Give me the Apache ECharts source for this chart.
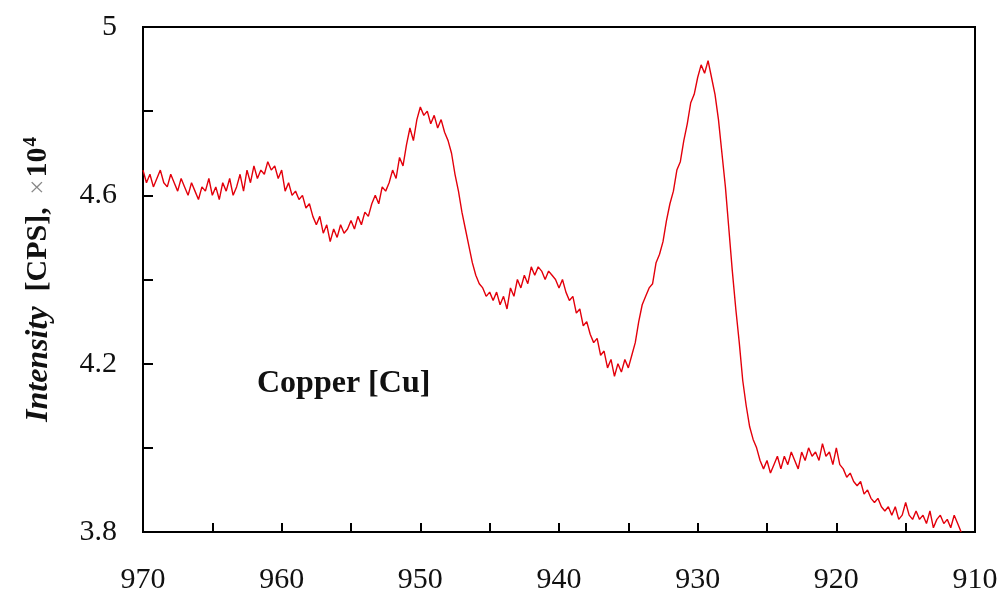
<!DOCTYPE html>
<html>
<head>
<meta charset="utf-8">
<script src="https://cdn.jsdelivr.net/npm/echarts@6/dist/echarts.min.js"></script>
<style>
  html, body { margin: 0; padding: 0; background: #fff; }
  #chart { width: 1006px; height: 600px; }
</style>
</head>
<body>
<div id="chart"></div>
<script>
// Cu XPS spectrum: binding energy (eV) sampled every 0.25 eV from 970 down to 911
const energyStart = 970;
const energyStep = 0.25;

// Intensity, in units of 10^4 counts per second
const intensity = [
  4.66, 4.63, 4.65, 4.62, 4.64, 4.66, 4.63, 4.62,
  4.65, 4.63, 4.61, 4.64, 4.62, 4.60, 4.63, 4.61,
  4.59, 4.62, 4.61, 4.64, 4.60, 4.62, 4.59, 4.63,
  4.61, 4.64, 4.60, 4.62, 4.65, 4.61, 4.66, 4.63,
  4.67, 4.64, 4.66, 4.65, 4.68, 4.66, 4.67, 4.64,
  4.66, 4.61, 4.63, 4.60, 4.61, 4.59, 4.60, 4.57,
  4.58, 4.55, 4.53, 4.55, 4.51, 4.53, 4.49, 4.52,
  4.50, 4.53, 4.51, 4.52, 4.54, 4.52, 4.55, 4.53,
  4.56, 4.55, 4.58, 4.60, 4.58, 4.62, 4.61, 4.63,
  4.66, 4.64, 4.69, 4.67, 4.72, 4.76, 4.73, 4.78,
  4.81, 4.79, 4.80, 4.77, 4.79, 4.76, 4.78, 4.75,
  4.73, 4.70, 4.65, 4.61, 4.56, 4.52, 4.48, 4.44,
  4.41, 4.39, 4.38, 4.36, 4.37, 4.35, 4.37, 4.34,
  4.36, 4.33, 4.38, 4.36, 4.40, 4.38, 4.41, 4.39,
  4.43, 4.41, 4.43, 4.42, 4.40, 4.42, 4.41, 4.40,
  4.38, 4.40, 4.37, 4.35, 4.36, 4.32, 4.33, 4.29,
  4.30, 4.27, 4.25, 4.26, 4.22, 4.23, 4.19, 4.21,
  4.17, 4.20, 4.18, 4.21, 4.19, 4.22, 4.25, 4.30,
  4.34, 4.36, 4.38, 4.39, 4.44, 4.46, 4.49, 4.54,
  4.58, 4.61, 4.66, 4.68, 4.73, 4.77, 4.82, 4.84,
  4.88, 4.91, 4.89, 4.92, 4.88, 4.84, 4.78, 4.70,
  4.62, 4.52, 4.42, 4.33, 4.25, 4.16, 4.10, 4.05,
  4.02, 4.00, 3.97, 3.95, 3.97, 3.94, 3.96, 3.98,
  3.95, 3.98, 3.96, 3.99, 3.97, 3.95, 3.99, 3.97,
  4.00, 3.98, 3.99, 3.97, 4.01, 3.98, 3.99, 3.96,
  4.00, 3.96, 3.95, 3.93, 3.94, 3.92, 3.91, 3.92,
  3.89, 3.90, 3.88, 3.87, 3.88, 3.86, 3.85, 3.86,
  3.84, 3.86, 3.83, 3.84, 3.87, 3.84, 3.83, 3.85,
  3.83, 3.84, 3.82, 3.85, 3.81, 3.83, 3.84, 3.82,
  3.83, 3.81, 3.84, 3.82, 3.80
];

// Labelled tick values
const xTickLabels = [970, 960, 950, 940, 930, 920, 910];
const yTickLabels = [3.8, 4.2, 4.6, 5];

const sampleLabel = 'Copper [Cu]';

const seriesData = intensity.map((v, i) => [energyStart - i * energyStep, v]);

const serif = '"Liberation Serif", "Times New Roman", serif';

const chart = echarts.init(document.getElementById('chart'), null, { renderer: 'canvas' });

chart.setOption({
  animation: false,
  backgroundColor: '#ffffff',
  grid: {
    left: 143, right: 31, top: 27, bottom: 68,
    show: true,
    borderColor: '#000',
    borderWidth: 2,
    backgroundColor: 'transparent'
  },
  xAxis: {
    type: 'value',
    inverse: true,
    min: 910,
    max: 970,
    interval: 5,
    axisLine: { show: true, lineStyle: { color: '#000', width: 2 } },
    axisTick: { show: true, inside: true, length: 9, lineStyle: { color: '#000', width: 2 } },
    splitLine: { show: false },
    axisLabel: {
      margin: 33,
      color: '#111',
      fontFamily: serif,
      fontSize: 30,
      showMinLabel: true,
      showMaxLabel: true,
      formatter: v => (xTickLabels.indexOf(Math.round(v)) >= 0 ? String(Math.round(v)) : '')
    }
  },
  yAxis: {
    type: 'value',
    min: 3.8,
    max: 5,
    interval: 0.2,
    axisLine: { show: true, lineStyle: { color: '#000', width: 2 } },
    axisTick: { show: true, inside: true, length: 10, lineStyle: { color: '#000', width: 2 } },
    splitLine: { show: false },
    axisLabel: {
      margin: 26,
      color: '#111',
      fontFamily: serif,
      fontSize: 30,
      showMinLabel: true,
      showMaxLabel: true,
      formatter: v => {
        const r = Math.round(v * 10) / 10;
        const hit = yTickLabels.some(t => Math.abs(t - r) < 1e-6);
        if (!hit) return '';
        return Number.isInteger(r) ? String(r) : r.toFixed(1);
      }
    },
    name: '{i|Intensity}  {b|[CPS],} {x|×}{b|10}{s|4}',
    nameLocation: 'middle',
    nameRotate: 90,
    nameGap: 88,
    nameTextStyle: {
      fontFamily: serif,
      fontSize: 30,
      color: '#111',
      rich: {
        i: { fontFamily: serif, fontSize: 32, fontStyle: 'italic', fontWeight: 'bold', color: '#111' },
        b: { fontFamily: serif, fontSize: 30, fontWeight: 'bold', color: '#111' },
        x: { fontFamily: serif, fontSize: 27, color: '#888', padding: [0, 2, 0, 5] },
        s: { fontFamily: serif, fontSize: 19, fontWeight: 'bold', color: '#111', verticalAlign: 'top', padding: [0, 0, 14, 1] }
      }
    }
  },
  graphic: [
    {
      type: 'text',
      left: 257,
      top: 368,
      style: {
        text: sampleLabel,
        fontFamily: serif,
        fontSize: 32,
        fontWeight: 'bold',
        fill: '#111'
      }
    }
  ],
  series: [
    {
      type: 'line',
      data: seriesData,
      showSymbol: false,
      smooth: false,
      lineStyle: { color: '#e3000b', width: 1.4 },
      clip: true
    }
  ]
});
</script>
</body>
</html>
